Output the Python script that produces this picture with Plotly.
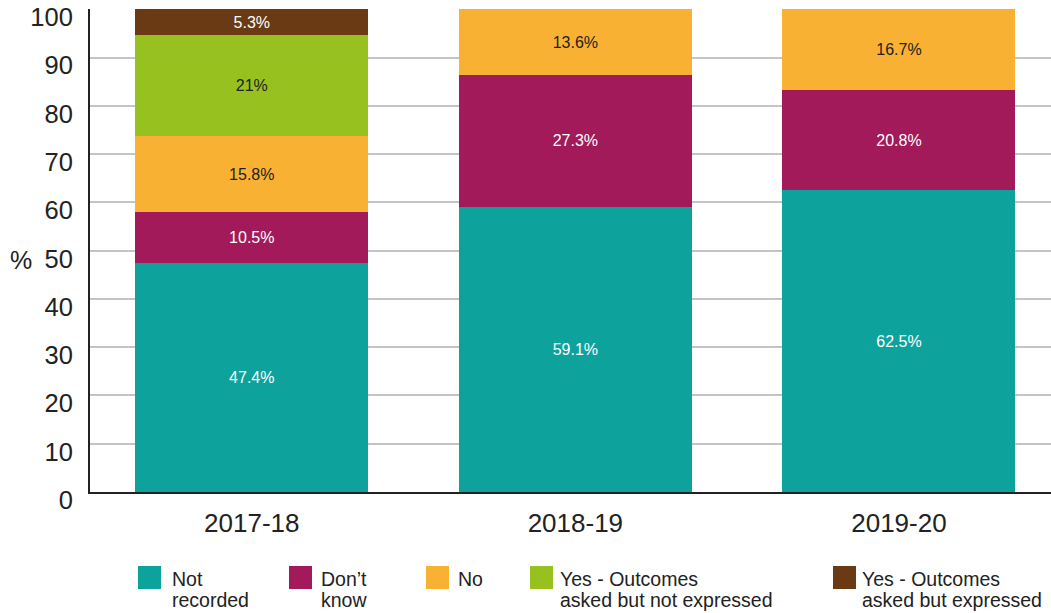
import plotly.graph_objects as go

years = ["2017-18", "2018-19", "2019-20"]
series_names = [
    "Not recorded",
    "Don’t know",
    "No",
    "Yes - Outcomes asked but not expressed",
    "Yes - Outcomes asked but expressed",
]
legend_line1 = ["Not", "Don’t", "No", "Yes - Outcomes", "Yes - Outcomes"]
legend_line2 = ["recorded", "know", "", "asked but not expressed", "asked but expressed"]
not_recorded = [47.4, 59.1, 62.5]
dont_know = [10.5, 27.3, 20.8]
no_vals = [15.8, 13.6, 16.7]
yes_not_expressed = [21, None, None]
yes_expressed = [5.3, None, None]
series_values = [not_recorded, dont_know, no_vals, yes_not_expressed, yes_expressed]

colors = ["#0EA29D", "#A21A5A", "#F8B133", "#96C11F", "#693A14"]
text_colors = ["#FFFFFF", "#FFFFFF", "#222222", "#222222", "#FFFFFF"]
y_ticks = list(range(0, 101, 10))

FONT = "Liberation Sans, Arial, Helvetica, sans-serif"

fig = go.Figure()
for name, vals, col, tcol in zip(series_names, series_values, colors, text_colors):
    fig.add_trace(go.Bar(
        x=years,
        y=vals,
        name=name,
        marker=dict(color=col, line=dict(width=0)),
        text=[("" if v is None else f"{v:g}%") for v in vals],
        textposition="inside",
        insidetextanchor="middle",
        textangle=0,
        textfont=dict(color=tcol, size=16, family=FONT),
        constraintext="none",
        showlegend=False,
        hoverinfo="skip",
    ))

# Plot area geometry (pixels) for the hand-placed legend
L, R, T, B = 90, 1051, 9, 492
W, H = R - L, B - T

def px_x(p):
    return (p - L) / W

def px_y(p):
    return (B - p) / H

legend_square_x = [138, 289, 426, 530, 833]
legend_text_x = [171, 320, 457, 559, 861]
sq_top = 566
line1_mid = 579
line2_mid = 600

shapes = []
annotations = []
for l1, l2, col, sx, tx in zip(legend_line1, legend_line2, colors, legend_square_x, legend_text_x):
    shapes.append(dict(
        type="rect", xref="paper", yref="paper",
        xsizemode="pixel", ysizemode="pixel",
        xanchor=px_x(sx), yanchor=px_y(sq_top),
        x0=0, x1=23, y0=-23, y1=0,
        fillcolor=col, line=dict(width=0),
    ))
    for txt, mid in ((l1, line1_mid), (l2, line2_mid)):
        if not txt:
            continue
        annotations.append(dict(
            xref="paper", yref="paper", x=px_x(tx), y=px_y(mid),
            xanchor="left", yanchor="middle", align="left",
            text=txt, showarrow=False, borderpad=0,
            font=dict(size=19.5, color="#222222", family=FONT),
        ))

annotations.append(dict(
    xref="paper", yref="paper", x=px_x(8), y=px_y(260),
    xanchor="left", yanchor="middle", text="%", showarrow=False,
    font=dict(size=25, color="#222222", family=FONT),
))

fig.update_layout(
    barmode="stack",
    bargap=0.28,
    width=1051,
    height=613,
    margin=dict(l=L, r=1051 - R, t=T, b=613 - B, autoexpand=False),
    plot_bgcolor="white",
    paper_bgcolor="white",
    font=dict(family=FONT, color="#222222"),
    shapes=shapes,
    annotations=annotations,
    uniformtext=dict(mode=False),
)
fig.update_xaxes(
    range=[-0.5, 2.47],
    showline=True, linecolor="#222222", linewidth=2,
    showgrid=False, ticks="",
    tickfont=dict(size=26, color="#222222", family=FONT),
    ticklabelstandoff=7,
    fixedrange=True,
)
fig.update_yaxes(
    range=[0, 100.05],
    tickvals=y_ticks,
    showline=True, linecolor="#222222", linewidth=2,
    showgrid=True, gridcolor="#C4C4C4", gridwidth=1.5,
    zeroline=False, ticks="",
    tickfont=dict(size=25.5, color="#222222", family=FONT),
    ticklabelstandoff=10,
    ticklabelshift=8,
    fixedrange=True,
)

fig.write_html(
    "out.html",
    config={"displayModeBar": False},
    post_script="document.body.style.margin='0';document.body.style.overflow='hidden';",
)
